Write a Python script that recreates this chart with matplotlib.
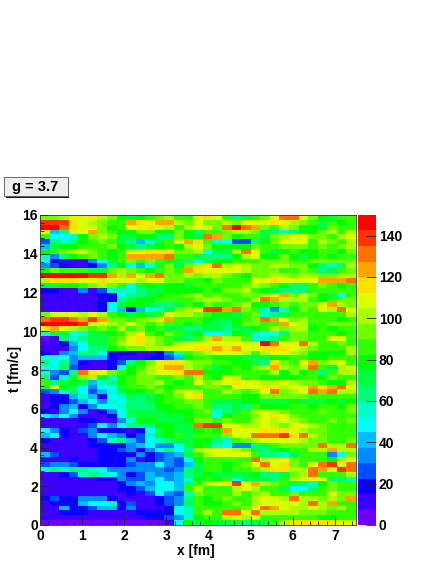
import numpy as np
import matplotlib
matplotlib.use('Agg')
import matplotlib.pyplot as plt
from matplotlib.colors import ListedColormap, BoundaryNorm
from matplotlib.patches import Rectangle
from matplotlib.ticker import MultipleLocator

plt.rcParams['font.family'] = ['Liberation Sans', 'DejaVu Sans']
plt.rcParams['font.weight'] = 'bold'

# Data, rows from t=16 (top) down to t=0
density = [
    [95,95,100,105,110,118,100,90,80,72,78,88,92,100,88,85,108,118,105,85,60,70,88,95,108,128,128,110,90,80,72,85,85],
    [135,138,135,115,108,100,92,88,85,125,115,112,122,125,100,92,110,95,92,100,90,105,108,105,118,105,100,92,85,70,85,78,88],
    [145,146,130,118,112,108,90,78,85,108,112,118,112,100,85,100,110,118,95,128,146,128,125,92,88,100,95,80,82,70,95,85,85],
    [108,40,62,105,110,122,95,85,75,82,95,90,80,75,90,78,60,85,85,95,100,100,92,68,60,58,62,78,82,92,100,85,100],
    [85,48,52,58,80,95,100,92,70,72,75,78,65,62,90,78,70,128,120,95,80,88,85,72,95,100,108,108,90,92,88,100,108],
    [28,60,58,62,78,85,90,85,72,60,38,55,70,88,110,122,118,88,55,52,26,26,62,78,95,105,108,108,85,98,90,85,100],
    [40,70,75,80,85,85,85,90,75,70,62,70,80,85,80,100,105,95,82,78,82,80,90,85,85,95,95,95,85,90,85,92,100],
    [75,85,90,100,105,90,85,82,85,108,112,118,118,118,90,95,100,45,70,70,100,132,112,85,72,78,85,78,80,85,85,78,90],
    [55,30,60,80,88,95,85,80,85,122,122,126,126,128,85,85,70,60,65,60,80,100,112,82,80,90,75,72,80,85,80,85,85],
    [48,20,10,10,10,30,50,72,85,90,88,90,85,75,70,60,50,72,80,78,88,85,85,90,95,95,85,88,95,92,90,95,92],
    [35,25,20,10,10,22,30,62,78,45,38,50,70,90,72,90,100,118,130,100,110,100,95,95,100,100,95,92,82,60,55,60,100],
    [75,90,85,85,85,70,72,90,100,95,85,80,85,95,88,122,118,112,105,110,108,100,92,95,92,85,85,90,85,60,72,85,90],
    [146,146,146,146,146,142,135,125,100,120,108,122,130,95,95,100,92,100,100,92,85,80,90,92,100,100,95,100,100,90,95,100,100],
    [100,115,118,118,112,110,118,110,105,112,100,112,108,92,90,85,85,80,92,88,88,88,108,112,115,112,108,105,110,122,122,124,128],
    [70,72,75,80,85,95,100,95,88,50,70,75,70,80,75,70,85,88,88,85,85,95,102,95,85,78,62,62,85,90,85,80,85],
    [20,15,10,10,35,12,25,55,55,55,62,70,72,75,78,80,82,85,82,95,92,100,85,78,70,60,60,62,85,85,88,85,85],
    [8,8,8,8,8,8,18,22,50,60,65,70,75,85,88,90,100,85,90,85,88,92,95,102,108,122,92,105,90,80,70,45,85],
    [8,8,8,8,8,8,18,18,60,72,75,78,85,88,85,85,90,100,100,90,85,88,100,128,125,100,100,100,88,80,85,92,90],
    [8,8,8,8,8,8,18,45,70,75,80,70,65,60,70,85,80,92,88,85,92,100,82,82,88,90,85,95,92,112,122,100,95],
    [8,8,8,8,8,12,22,48,38,20,40,48,55,72,95,100,112,138,135,125,130,92,85,55,35,58,80,95,85,108,100,128,105],
    [95,108,110,108,100,105,100,85,80,72,75,70,85,105,100,100,95,85,80,80,70,85,92,58,60,72,88,88,85,85,85,85,100],
    [128,135,135,128,125,135,120,95,92,85,90,100,105,122,88,88,85,75,72,68,78,85,90,128,125,105,95,100,88,85,85,80,85],
    [145,146,146,146,140,118,110,100,95,105,95,85,95,85,85,80,88,72,70,65,75,92,90,88,88,125,108,100,85,88,92,90,90],
    [115,125,110,100,90,85,90,85,100,85,90,82,85,70,70,60,65,70,68,60,70,72,80,85,100,95,100,100,82,85,80,85,85],
    [55,72,70,50,55,70,72,80,85,100,110,85,80,95,85,68,82,52,50,55,75,72,58,52,50,62,92,95,88,85,85,82,85],
    [5,8,60,55,60,70,72,85,90,105,115,100,95,85,70,62,85,102,122,100,100,85,55,58,60,85,90,90,85,85,108,110,85],
    [8,8,20,38,52,70,72,85,100,110,115,100,90,88,100,108,112,110,110,105,112,108,110,145,128,105,108,128,100,85,85,90,85],
    [8,8,12,35,50,62,65,80,85,90,95,100,100,108,110,112,118,118,120,115,120,112,112,115,118,115,105,100,92,85,85,85,100],
    [15,12,30,40,62,65,45,22,20,15,12,14,18,30,55,85,90,100,108,105,105,100,85,100,105,110,100,90,80,75,80,80,100],
    [50,55,45,30,40,42,40,15,10,14,10,20,22,24,40,75,85,85,80,78,78,72,68,72,75,80,85,85,80,78,85,85,85],
    [60,50,60,35,18,10,10,15,25,65,80,90,108,118,115,100,95,90,85,85,80,75,70,65,115,90,85,105,120,90,100,105,88],
    [48,58,62,25,8,8,8,15,50,75,85,100,118,120,122,100,90,85,70,80,85,80,95,100,125,100,95,100,130,85,72,100,105],
    [55,35,28,60,128,118,110,90,85,80,90,100,108,112,118,130,128,80,78,80,85,85,88,85,100,80,90,80,85,62,85,100,100],
    [62,28,55,72,95,100,80,55,80,85,95,95,85,85,90,85,100,85,80,108,100,85,85,78,82,75,80,85,85,80,90,85,85],
    [85,60,72,75,70,40,55,62,75,85,90,92,100,85,80,88,110,95,100,110,115,110,108,100,100,105,100,95,90,85,82,82,100],
    [70,105,80,65,50,35,45,50,72,85,85,90,85,80,85,85,88,90,90,85,112,112,108,118,115,100,105,110,120,118,122,130,110],
    [25,30,55,70,45,25,40,55,70,75,78,85,95,85,100,112,100,85,85,100,92,85,90,110,131,95,100,105,128,125,128,100,100],
    [12,18,20,40,55,38,18,48,55,68,65,70,78,85,95,110,118,85,85,85,85,80,75,90,95,90,92,90,88,88,85,85,85],
    [10,15,18,25,38,48,30,55,50,60,62,70,75,85,85,90,90,85,68,70,72,75,75,72,68,70,75,72,72,72,75,72,75],
    [8,20,35,40,15,35,45,45,55,62,60,65,75,75,85,85,90,85,62,60,72,65,85,80,75,78,85,88,80,85,85,75,90],
    [22,12,30,50,35,12,15,35,48,70,72,72,72,80,82,82,88,90,55,62,70,85,100,105,100,95,85,85,85,90,88,85,90],
    [50,42,45,30,10,8,12,20,45,62,68,72,72,70,72,80,85,88,52,80,85,85,95,112,118,105,90,85,85,85,85,88,85],
    [8,8,8,10,22,15,8,10,32,58,80,75,72,70,72,80,90,95,85,90,85,88,100,105,100,105,100,92,85,85,90,85,90],
    [8,8,8,8,12,28,45,35,50,62,65,60,78,75,70,70,130,135,142,110,108,100,100,108,100,95,105,108,100,92,85,85,85],
    [48,35,18,12,25,30,15,22,20,12,20,45,70,78,72,72,80,85,80,120,108,110,110,118,115,115,108,100,92,90,85,85,85],
    [42,48,15,10,12,30,50,40,30,18,28,55,72,80,85,72,85,88,85,92,112,110,128,128,132,138,115,128,100,90,85,85,85],
    [15,12,10,8,12,20,25,55,62,40,25,48,55,60,70,72,80,78,62,55,85,95,100,105,110,105,105,100,95,90,85,85,95],
    [12,10,8,8,8,15,20,18,22,35,40,48,30,35,52,72,78,70,58,50,35,30,60,72,85,95,90,90,90,128,100,100,128],
    [8,8,8,8,8,8,15,18,28,30,20,35,48,62,45,62,100,112,110,108,100,95,70,65,72,80,88,88,100,100,125,100,100],
    [38,28,8,8,8,10,15,22,18,20,30,20,28,30,42,70,85,100,112,110,105,105,85,60,60,55,72,85,88,85,35,50,95],
    [12,10,12,15,10,8,15,15,20,30,12,22,25,30,25,45,80,85,85,85,85,85,128,100,110,105,95,88,85,85,80,100,108],
    [28,35,30,25,20,15,15,15,20,25,30,30,45,30,28,42,72,85,85,80,88,95,108,128,112,115,95,88,105,130,135,110,130],
    [55,60,58,65,62,55,45,35,30,30,30,30,32,28,35,62,70,85,85,80,85,85,92,100,115,115,100,100,132,120,112,135,130],
    [10,12,20,28,55,60,55,48,30,22,28,40,32,35,42,60,72,80,72,72,68,72,80,62,60,72,92,100,128,85,85,85,100],
    [8,10,10,12,14,14,15,20,35,25,28,42,50,32,42,58,75,88,78,85,52,72,72,68,65,85,100,108,105,110,62,60,58],
    [8,8,8,8,8,8,12,14,20,30,40,30,48,45,40,62,85,100,108,115,135,108,125,100,92,85,72,60,58,75,90,85,85],
    [8,8,8,8,8,8,8,12,15,20,28,38,50,45,40,85,100,85,85,85,100,110,100,85,85,70,48,45,62,85,95,85,85],
    [8,8,8,12,10,8,12,10,12,18,14,28,45,30,28,55,95,85,85,88,100,85,90,100,85,85,90,85,85,85,105,95,90],
    [15,25,15,20,30,35,30,18,14,10,12,14,20,25,35,62,88,80,85,90,85,85,100,105,110,100,128,100,100,90,100,95,125],
    [12,20,18,22,40,45,50,55,20,28,12,12,18,28,30,72,85,80,80,88,90,85,100,110,110,105,105,100,128,100,122,85,85],
    [10,14,40,20,20,28,42,40,15,30,14,10,14,22,50,55,85,85,85,85,85,95,108,128,125,108,100,100,105,100,95,100,85],
    [8,14,22,18,16,12,14,10,10,12,20,15,16,22,45,58,85,100,85,128,128,112,128,100,100,100,100,95,90,90,85,85,85],
    [8,8,8,8,8,8,8,12,14,12,10,15,22,28,30,55,75,85,85,100,110,100,110,85,85,85,85,85,85,80,80,85,85],
    [5,5,5,5,5,5,5,5,5,5,5,5,5,12,45,75,70,75,70,70,70,62,72,72,85,100,115,118,118,118,118,110,110],
]
x_edges = np.linspace(0, 7.5, 34)
t_edges = np.linspace(0, 16, 65)
z_levels = np.linspace(0, 150, 21)

palette = ['#6e00ff', '#3c00ff', '#0a00ff', '#0050ff', '#008cff', '#00beff',
           '#00ffff', '#00ffc8', '#00ff78', '#00ff3c', '#00ff00', '#32ff00',
           '#6eff00', '#aaff00', '#dcff00', '#ffe100', '#ffa500', '#ff7000',
           '#ff3300', '#ff0000']
cmap = ListedColormap(palette)
norm = BoundaryNorm(z_levels, cmap.N)

fig = plt.figure(figsize=(4.36, 5.64), dpi=100)
W, H = 436.0, 564.0
ax = fig.add_axes([40/W, 1-525/H, 316/W, 310/H])
cax = fig.add_axes([357.5/W, 1-525/H, 18.5/W, 310/H])

ax.pcolormesh(x_edges, t_edges, np.array(density)[::-1], cmap=cmap, norm=norm)
ax.set_xlim(0, 7.5)
ax.set_ylim(0, 16)
ax.set_xticks([0, 1, 2, 3, 4, 5, 6, 7])
ax.set_yticks([0, 2, 4, 6, 8, 10, 12, 14, 16])
ax.xaxis.set_minor_locator(MultipleLocator(0.2))
ax.yaxis.set_minor_locator(MultipleLocator(0.4))
ax.tick_params(which='major', direction='in', length=6.5, width=0.6, labelsize=10, color='#222222')
ax.tick_params(which='minor', direction='in', length=3.2, width=0.6, color='#222222')
ax.tick_params(axis='x', which='major', pad=3)
ax.tick_params(axis='y', which='major', pad=1.5)
for s in ax.spines.values():
    s.set_linewidth(0.6)
    s.set_color('#333333')

fig.text(215/W, 1-551/H, 'x [fm]', ha='right', va='center', fontsize=10)
fig.text(15/W, 1-368.5/H, 't [fm/c]', ha='center', va='center', rotation=90, fontsize=10)

# palette bar
cax.pcolormesh([0, 1], z_levels, np.array(z_levels[:-1] + 3.75).reshape(-1, 1), cmap=cmap, norm=norm)
cax.set_xlim(0, 1)
cax.set_ylim(0, 150)
cax.set_xticks([])
cax.yaxis.tick_right()
cax.set_yticks([0, 20, 40, 60, 80, 100, 120, 140])
cax.tick_params(axis='y', direction='in', length=7, width=0.6, labelsize=10, pad=2, color='#222222')
for s in cax.spines.values():
    s.set_visible(False)

# label box
fig.add_artist(Rectangle((5.5/W, 1-198/H), 63.5/W, 19.5/H, transform=fig.transFigure, facecolor='#222222', edgecolor='none'))
fig.add_artist(Rectangle((4/W, 1-196.5/H), 63.5/W, 19/H, transform=fig.transFigure, facecolor='#efefef', edgecolor='#555555', linewidth=0.6))
fig.text(35.5/W, 1-187.5/H, 'g = 3.7', ha='center', va='center', fontsize=10.5)

fig.savefig('out.png', dpi=100)
